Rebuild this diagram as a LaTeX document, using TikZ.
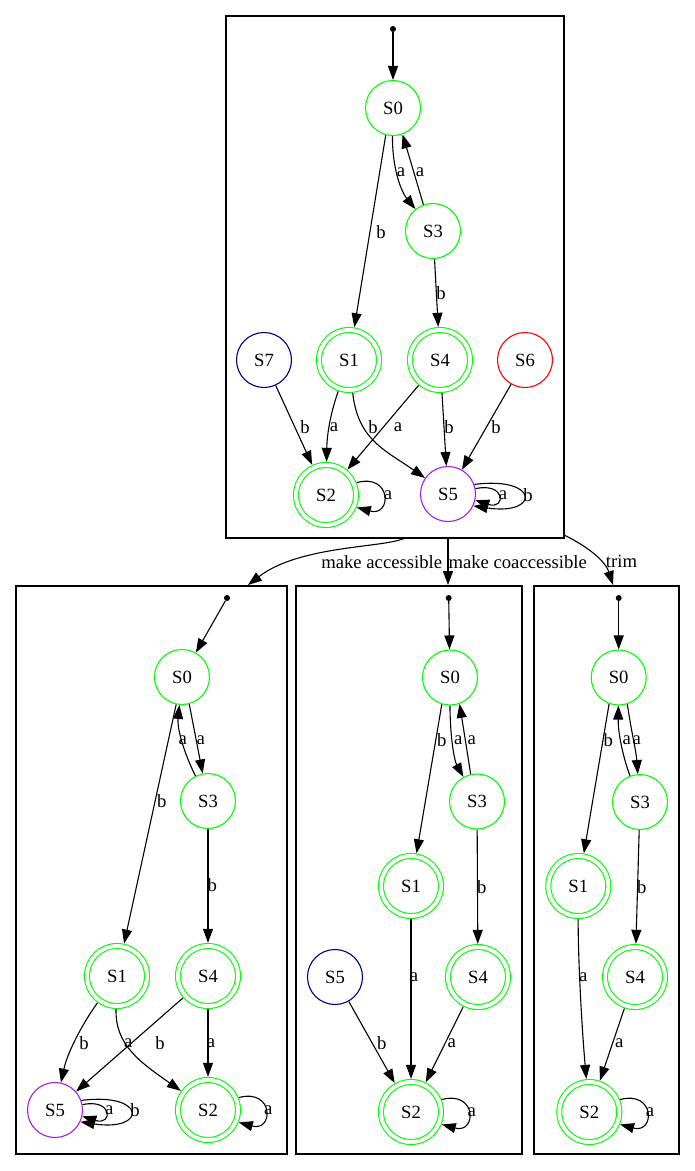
\documentclass[tikz,border=0pt]{standalone}
\usepackage{fontspec}
\setmainfont{Liberation Serif}
\usetikzlibrary{arrows.meta,calc}
\definecolor{gvgreen}{HTML}{00FF00}
\definecolor{gvnavy}{HTML}{000080}
\definecolor{gvred}{HTML}{FF0000}
\definecolor{gvpurple}{HTML}{A020F0}
\newcommand{\gvfont}{\fontsize{18.67}{22}\selectfont}
\tikzset{
  st/.style={circle, draw=gvgreen, line width=1.1pt, minimum size=55pt, inner sep=0pt, font=\gvfont},
  acc/.style={circle, draw=gvgreen, line width=1.1pt, double=white, double distance=3.9pt, minimum size=60pt, inner sep=0pt, outer sep=3.2pt, font=\gvfont},
  initdot/.style={circle, fill=black, minimum size=6pt, inner sep=0pt},
  lb/.style={inner sep=0pt, font=\gvfont},
  tr/.style={-{Triangle[length=14pt,width=10pt]}, line width=1.1pt},
  cl/.style={draw, line width=1.2pt, rectangle, inner sep=0pt, outer sep=0pt, anchor=north west},
}
\begin{document}
\begin{tikzpicture}[x=1pt,y=-1pt]
\useasboundingbox (0,0) rectangle (695,1171);
% cluster boxes
\node[cl, minimum width=338pt, minimum height=522pt] (ctop) at (226,16) {};
\node[cl, minimum width=271pt, minimum height=568pt] (cleft) at (16,586) {};
\node[cl, minimum width=226pt, minimum height=568pt] (cmid) at (296,586) {};
\node[cl, minimum width=145pt, minimum height=568pt] (cright) at (534,586) {};

% ---------- top automaton ----------
\node[initdot] (ti) at (393,29) {};
\node[st] (T0) at (393,108) {S0};
\node[st] (T3) at (433,231) {S3};
\node[st, draw=gvnavy] (T7) at (264,360) {S7};
\node[acc] (T1) at (349,360) {S1};
\node[acc] (T4) at (440,360) {S4};
\node[st, draw=gvred] (T6) at (525,360) {S6};
\node[acc] (T2) at (326,495) {S2};
\node[st, draw=gvpurple] (T5) at (448,494) {S5};

\draw[tr] (ti) -- (T0);
\draw[tr] (T0) .. controls (392,165) and (400,190) .. (T3);
\draw[tr] (T3.110) -- (T0.-70);
\draw[tr] (T0.-105) -- (T1);
\draw[tr] (T3) -- (T4);
\draw[tr] (T7) -- (T2);
\draw[tr] (T1) .. controls (330,415) and (327,435) .. (T2);
\draw[tr] (T1) .. controls (358,440) and (385,450) .. (T5);
\draw[tr] (T4) -- (T2);
\draw[tr] (T4) -- (T5);
\draw[tr] (T6) -- (T5);
\draw[tr] (T2.22) .. controls ($(T2)+(66,-22)$) and ($(T2)+(66,22)$) .. (T2.-22);
\draw[tr] (T5.11) .. controls ($(T5)+(58,-12)$) and ($(T5)+(58,16)$) .. (T5.-13);
\draw[tr] (T5.20) .. controls ($(T5)+(92,-18)$) and ($(T5)+(92,22)$) .. (T5.-25);

\node[lb] (tl1) at (401,172) {a};
\node[lb] (tl2) at (420,172) {a};
\node[lb] (tl3) at (381,232) {b};
\node[lb] (tl4) at (441,293) {b};
\node[lb] (tl5) at (305,427) {b};
\node[lb] (tl6) at (334,427) {a};
\node[lb] (tl7) at (373,427) {b};
\node[lb] (tl8) at (398,427) {a};
\node[lb] (tl9) at (449,427) {b};
\node[lb] (tl10) at (496,427) {b};
\node[lb] (tl11) at (388,495) {a};
\node[lb] (tl12) at (503,495) {a};
\node[lb] (tl13) at (528,495) {b};

% ---------- cluster connectors ----------
\coordinate (ca) at (405,538);
\coordinate (cb) at (448,538);
\coordinate (cc) at (564,535);
\coordinate (ea) at (248,585);
\coordinate (eb) at (448,585);
\coordinate (ec) at (613,585);
\draw[tr] (ca) .. controls (385,548) and (300,545) .. (ea);
\draw[tr] (cb) -- (eb);
\draw[tr] (cc) .. controls (585,545) and (605,560) .. (ec);
\node[lb] (cl1) at (381.7,561.7) {make accessible};
\node[lb] (cl2) at (517.7,561.7) {make coaccessible};
\node[lb] (cl3) at (621.5,561.7) {trim};

% ---------- left automaton ----------
\node[initdot] (li) at (227,598) {};
\node[st] (L0) at (182,677) {S0};
\node[st] (L3) at (208,801) {S3};
\node[acc] (L1) at (117,976) {S1};
\node[acc] (L4) at (208,976) {S4};
\node[st, draw=gvpurple] (L5) at (55,1110) {S5};
\node[acc] (L2) at (208,1110) {S2};

\draw[tr] (li) -- (L0);
\draw[tr] (L0.-75) -- (L3);
\draw[tr] (L3) .. controls (185,755) and (177,730) .. (L0);
\draw[tr] (L0.-102) -- (L1);
\draw[tr] (L3) -- (L4);
\draw[tr] (L1) .. controls (85,1020) and (68,1050) .. (L5);
\draw[tr] (L1) .. controls (115,1045) and (140,1062) .. (L2);
\draw[tr] (L4) -- (L5);
\draw[tr] (L4) -- (L2);
\draw[tr] (L2.22) .. controls ($(L2)+(66,-22)$) and ($(L2)+(66,22)$) .. (L2.-22);
\draw[tr] (L5.11) .. controls ($(L5)+(58,-12)$) and ($(L5)+(58,16)$) .. (L5.-13);
\draw[tr] (L5.20) .. controls ($(L5)+(92,-18)$) and ($(L5)+(92,22)$) .. (L5.-25);

\node[lb] (ll1) at (200.7,740) {a};
\node[lb] (ll2) at (182.7,740) {a};
\node[lb] (ll3) at (161.7,801) {b};
\node[lb] (ll4) at (212.3,885) {b};
\node[lb] (ll5) at (84,1043) {b};
\node[lb] (ll6) at (128.3,1043) {a};
\node[lb] (ll7) at (160,1043) {b};
\node[lb] (ll8) at (211,1043) {a};
\node[lb] (ll9) at (109.3,1110) {a};
\node[lb] (ll10) at (135,1110) {b};
\node[lb] (ll11) at (268.3,1110) {a};

% ---------- middle automaton ----------
\node[initdot] (mi) at (448.7,598) {};
\node[st] (M0) at (450,677.5) {S0};
\node[st] (M3) at (477,801.5) {S3};
\node[acc] (M1) at (411,886) {S1};
\node[st, draw=gvnavy] (M5) at (335,977) {S5};
\node[acc] (M4) at (478,977) {S4};
\node[acc] (M2) at (411,1112) {S2};

\draw[tr] (mi) -- (M0);
\draw[tr] (M0.-107) -- (M1);
\draw[tr] (M0) .. controls (450,735) and (454,760) .. (M3);
\draw[tr] (M3.103) -- (M0.-70);
\draw[tr] (M3) -- (M4);
\draw[tr] (M1) -- (M2);
\draw[tr] (M5) -- (M2);
\draw[tr] (M4) -- (M2);
\draw[tr] (M2.22) .. controls ($(M2)+(66,-22)$) and ($(M2)+(66,22)$) .. (M2.-22);

\node[lb] (ml1) at (441.7,740.4) {b};
\node[lb] (ml2) at (458.3,740.4) {a};
\node[lb] (ml3) at (471.7,740.4) {a};
\node[lb] (ml4) at (481.7,887) {b};
\node[lb] (ml5) at (414,977.5) {a};
\node[lb] (ml6) at (381.7,1043) {b};
\node[lb] (ml7) at (451.7,1043) {a};
\node[lb] (ml8) at (471.7,1112) {a};

% ---------- right automaton ----------
\node[initdot] (ri) at (618.7,598) {};
\node[st] (R0) at (618.7,677.5) {S0};
\node[st] (R3) at (640,802) {S3};
\node[acc] (R1) at (578.3,886) {S1};
\node[acc] (R4) at (635,977) {S4};
\node[acc] (R2) at (589.3,1112) {S2};

\draw[tr] (ri) -- (R0);
\draw[tr] (R0.-110) -- (R1);
\draw[tr] (R0.-72) .. controls (631,730) and (636,750) .. (R3);
\draw[tr] (R3) .. controls (624,760) and (618,735) .. (R0);
\draw[tr] (R3) -- (R4);
\draw[tr] (R1) .. controls (578,960) and (582,1030) .. (R2);
\draw[tr] (R4) -- (R2);
\draw[tr] (R2.22) .. controls ($(R2)+(66,-22)$) and ($(R2)+(66,22)$) .. (R2.-22);

\node[lb] (rl1) at (608.3,740.4) {b};
\node[lb] (rl2) at (626.7,740.4) {a};
\node[lb] (rl3) at (636.7,740.4) {a};
\node[lb] (rl4) at (641.7,887) {b};
\node[lb] (rl5) at (583.3,977.5) {a};
\node[lb] (rl6) at (619.3,1043) {a};
\node[lb] (rl7) at (650,1112) {a};
\end{tikzpicture}
\end{document}
